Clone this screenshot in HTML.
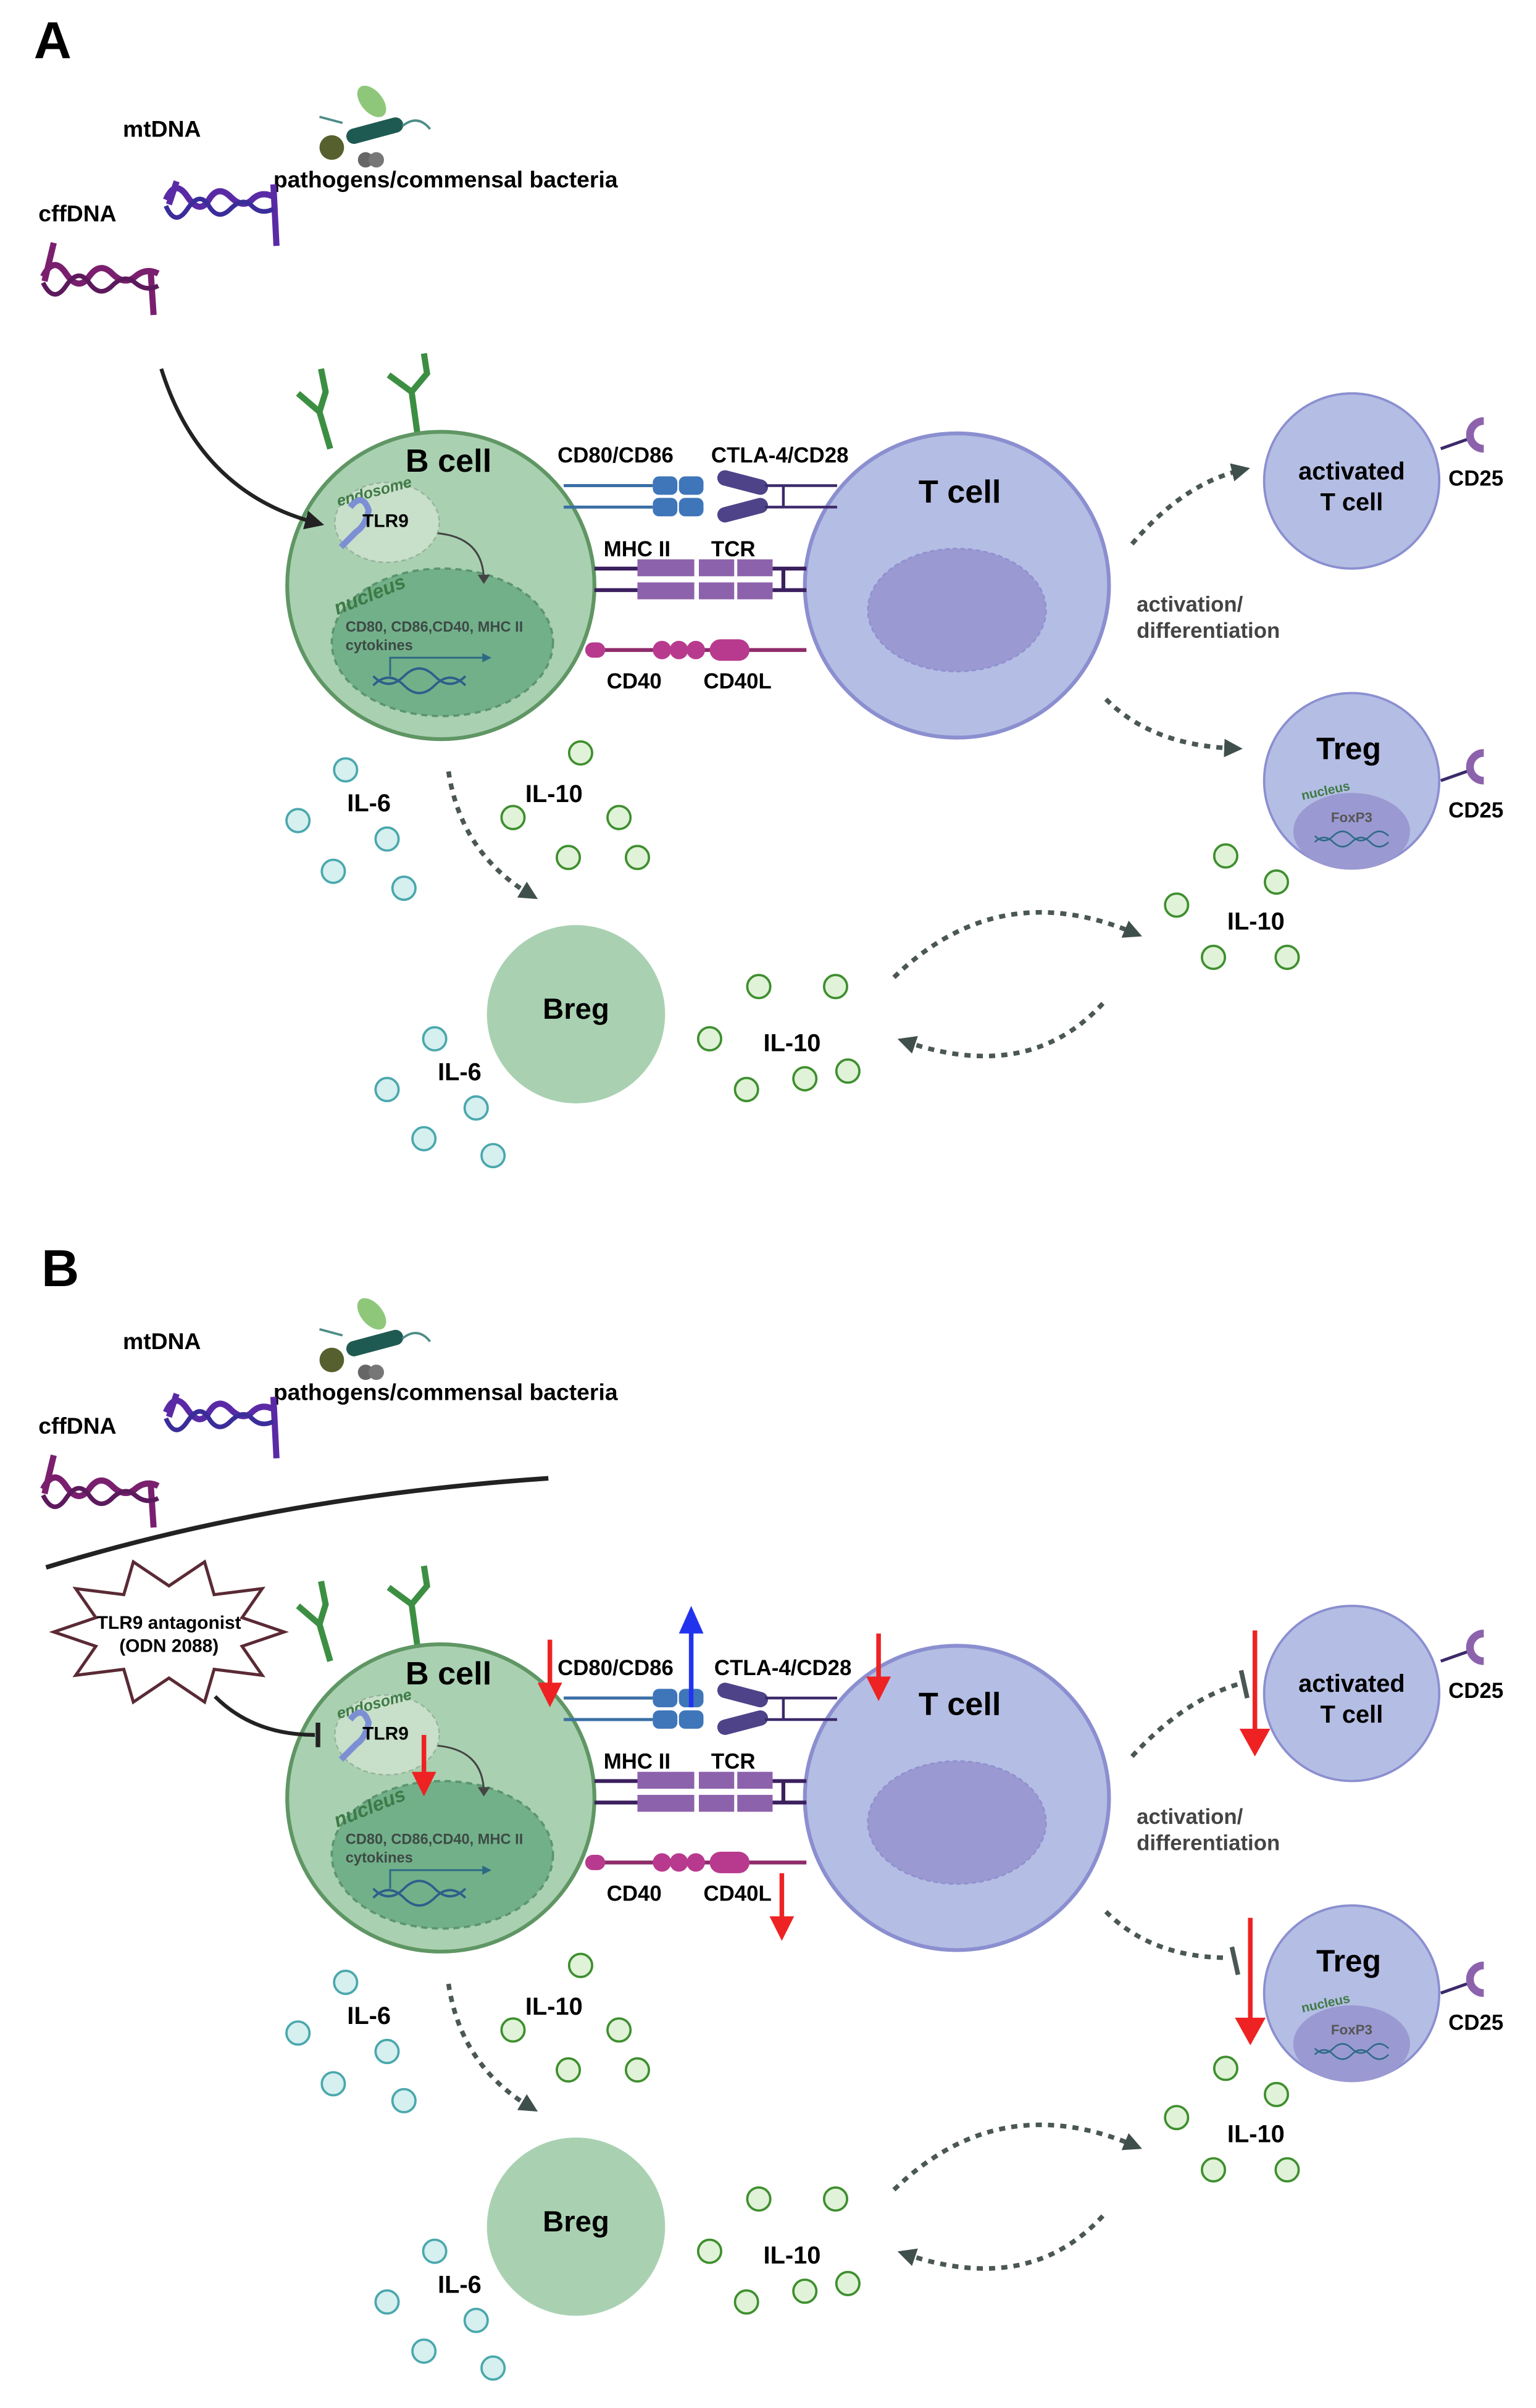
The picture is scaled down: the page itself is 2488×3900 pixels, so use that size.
<!DOCTYPE html>
<html><head><meta charset="utf-8"><style>
html,body{margin:0;padding:0;background:#fff;}
svg{display:block;}
text{font-family:"Liberation Sans",sans-serif;font-weight:bold;}
</style></head><body>
<svg width="2488" height="3900" viewBox="0 0 1000 1567" preserveAspectRatio="none" xmlns="http://www.w3.org/2000/svg">
<defs>
<marker id="ah" viewBox="0 0 10 10" refX="5" refY="5" markerWidth="4" markerHeight="4" orient="auto"><path d="M0,0L10,5L0,10z" fill="#3f4f4c"/></marker>
<marker id="bk" viewBox="0 0 10 10" refX="5" refY="5" markerWidth="5" markerHeight="5" orient="auto"><path d="M0,0L10,5L0,10z" fill="#222"/></marker>
</defs>
<rect width="1000" height="1567" fill="#fff"/>

<text x="22" y="38" font-size="34">A</text>
<text x="27" y="837" font-size="34">B</text>

<!-- PANEL A -->
<g>
<text x="80" y="89" font-size="15">mtDNA</text>
<text x="25" y="144" font-size="15">cffDNA</text>
<text x="178" y="122" font-size="15">pathogens/commensal bacteria</text>
<path d="M108,130 q6,-14 14,-2 t14,2 t14,-2 t14,2 t14,-2 M115,118 l-5,15 M178,120 l2,40" stroke="#5a2aa6" stroke-width="4" fill="none"/>
<path d="M108,134 q6,14 14,2 t14,-2 t14,2 t14,-2 t14,2" stroke="#3a2d9a" stroke-width="3" fill="none"/>
<path d="M28,180 q7,-14 15,-2 t15,2 t15,-2 t15,2 t15,-2 M35,158 l-6,25 M98,175 l2,30" stroke="#7a1f6e" stroke-width="4" fill="none"/>
<path d="M28,184 q7,14 15,2 t15,-2 t15,2 t15,-2 t15,2" stroke="#5c1a5c" stroke-width="3" fill="none"/>
<rect x="225" y="80" width="38" height="10" rx="5" fill="#1f5a52" transform="rotate(-15 244 85)"/>
<ellipse cx="242" cy="66" rx="7" ry="12" fill="#8fc77a" transform="rotate(-40 242 66)"/>
<circle cx="216" cy="96" r="8" fill="#55602e"/>
<circle cx="238" cy="104" r="5" fill="#666"/><circle cx="245" cy="104" r="5" fill="#777"/>
<path d="M208,76 l15,4 M262,82 q10,-8 18,2" stroke="#4d8c88" stroke-width="1.5" fill="none"/>

<g stroke="#3c8f42" stroke-width="4" fill="none">
<path d="M215,292 L208,268 L194,256 M208,268 L212,255 L209,240"/>
<path d="M272,284 L268,255 L253,244 M268,255 L278,243 L276,230"/>
</g>
<circle cx="287" cy="381" r="100" fill="#a9d1b1" stroke="#5f9664" stroke-width="2.5"/>
<path d="M105,240 Q130,320 205,340" stroke="#222" stroke-width="2.5" fill="none" marker-end="url(#bk)"/>
<text x="264" y="307" font-size="21">B cell</text>
<ellipse cx="252" cy="340" rx="34" ry="26" fill="#c8dfc9" stroke="#98b49c" stroke-dasharray="3,2"/>
<text x="218" y="324" font-size="10" fill="#3e7a46" font-style="italic" transform="rotate(-15 240 318)">endosome</text>
<path d="M228,330 q8,-10 12,2 q-2,10 -8,14 l-10,10" stroke="#7c8fd4" stroke-width="4" fill="none"/>
<text x="236" y="343" font-size="12">TLR9</text>
<ellipse cx="288" cy="418" rx="72" ry="48" fill="#72b08a" stroke="#5d9470" stroke-dasharray="4,3" stroke-width="1.5"/>
<text x="214" y="392" font-size="13" fill="#3e7a46" font-style="italic" transform="rotate(-22 238 382)">nucleus</text>
<path d="M285,347 Q315,350 315,378" stroke="#444" stroke-width="1.2" fill="none"/>
<path d="M311,374 l4,6 l4,-6z" fill="#444"/>
<text x="225" y="411" font-size="9.5" fill="#3d4a45">CD80, CD86,CD40, MHC II</text>
<text x="225" y="423" font-size="9.5" fill="#3d4a45">cytokines</text>
<path d="M254,440 v-12 h62" stroke="#2d6a85" stroke-width="1.2" fill="none"/>
<path d="M314,425 l6,3 l-6,3z" fill="#2d6a85"/>
<path d="M243,446 q10,-10 20,0 t20,0 t20,0 M243,440 q10,10 20,0 t20,0 t20,0" stroke="#2d5f8a" stroke-width="1.5" fill="none"/>

<circle cx="623" cy="381" r="99" fill="#b4bde3" stroke="#8b8fd0" stroke-width="2.5"/>
<ellipse cx="623" cy="397" rx="58" ry="40" fill="#9a99d2" stroke="#8f8ed0" stroke-dasharray="3,2"/>
<text x="598" y="327" font-size="21">T cell</text>

<text x="363" y="301" font-size="14">CD80/CD86</text>
<text x="463" y="301" font-size="14">CTLA-4/CD28</text>
<path d="M367,316 H425 M367,330 H425" stroke="#3b6fa5" stroke-width="2"/>
<g fill="#3f76ba"><rect x="425" y="310" width="16" height="12" rx="4"/><rect x="442" y="310" width="16" height="12" rx="4"/><rect x="425" y="324" width="16" height="12" rx="4"/><rect x="442" y="324" width="16" height="12" rx="4"/></g>
<path d="M472,311 L495,317 M472,335 L495,329" stroke="#4e4388" stroke-width="10" stroke-linecap="round"/>
<path d="M498,316 H545 M498,330 H545 M510,316 V330" stroke="#3c2a6a" stroke-width="1.8"/>
<text x="393" y="362" font-size="14">MHC II</text>
<text x="463" y="362" font-size="14">TCR</text>
<path d="M387,370 H415 M387,384 H415 M503,370 H525 M503,384 H525 M510,370 V384" stroke="#3b1f5e" stroke-width="2.5"/>
<g fill="#8d62ac"><rect x="415" y="364" width="37" height="11"/><rect x="415" y="379" width="37" height="11"/><rect x="455" y="364" width="23" height="11"/><rect x="480" y="364" width="23" height="11"/><rect x="455" y="379" width="23" height="11"/><rect x="480" y="379" width="23" height="11"/></g>
<path d="M383,423 H525" stroke="#8f2b6a" stroke-width="2.5"/>
<g fill="#b83a8e"><rect x="381" y="418" width="13" height="10" rx="5"/><circle cx="431" cy="423" r="6"/><circle cx="442" cy="423" r="6"/><circle cx="453" cy="423" r="6"/><rect x="462" y="416" width="26" height="14" rx="7"/></g>
<text x="395" y="448" font-size="14">CD40</text>
<text x="458" y="448" font-size="14">CD40L</text>

<path d="M938,292 L955,286" stroke="#3c2a6a" stroke-width="2"/>
<path d="M966,274 a9,9 0 0 0 0,18" stroke="#8d62ac" stroke-width="5" fill="none"/>
<circle cx="880" cy="313" r="57" fill="#b4bde3" stroke="#8b8fd0" stroke-width="1.5"/>
<text x="880" y="312" font-size="16" text-anchor="middle">activated</text>
<text x="880" y="332" font-size="16" text-anchor="middle">T cell</text>
<text x="943" y="316" font-size="14">CD25</text>
<text x="740" y="398" font-size="14" fill="#444">activation/</text>
<text x="740" y="415" font-size="14" fill="#444">differentiation</text>
<path d="M938,508 L955,502" stroke="#3c2a6a" stroke-width="2"/>
<path d="M966,490 a9,9 0 0 0 0,18" stroke="#8d62ac" stroke-width="5" fill="none"/>
<circle cx="880" cy="508" r="57" fill="#b4bde3" stroke="#8b8fd0" stroke-width="1.5"/>
<ellipse cx="880" cy="541" rx="38" ry="25" fill="#9a99d2"/>
<text x="878" y="494" font-size="20" text-anchor="middle">Treg</text>
<text x="847" y="518" font-size="8.5" fill="#3e7a46" transform="rotate(-12 860 515)">nucleus</text>
<text x="880" y="535" font-size="9" fill="#555" text-anchor="middle">FoxP3</text>
<path d="M856,548 q6,-6 12,0 t12,0 t12,0 t12,0 M856,544 q6,6 12,0 t12,0 t12,0 t12,0" stroke="#2d6a85" stroke-width="1" fill="none"/>
<text x="943" y="532" font-size="14">CD25</text>

<g fill="#d6efef" stroke="#4aa8ad" stroke-width="1.5">
<circle cx="225" cy="501" r="7.5"/><circle cx="194" cy="534" r="7.5"/><circle cx="252" cy="546" r="7.5"/><circle cx="217" cy="567" r="7.5"/><circle cx="263" cy="578" r="7.5"/>
<circle cx="283" cy="676" r="7.5"/><circle cx="252" cy="709" r="7.5"/><circle cx="310" cy="721" r="7.5"/><circle cx="276" cy="741" r="7.5"/><circle cx="321" cy="752" r="7.5"/>
</g>
<g fill="#e0f2d8" stroke="#3e8f2e" stroke-width="1.5">
<circle cx="378" cy="490" r="7.5"/><circle cx="334" cy="532" r="7.5"/><circle cx="403" cy="532" r="7.5"/><circle cx="370" cy="558" r="7.5"/><circle cx="415" cy="558" r="7.5"/>
<circle cx="494" cy="642" r="7.5"/><circle cx="544" cy="642" r="7.5"/><circle cx="462" cy="676" r="7.5"/><circle cx="486" cy="709" r="7.5"/><circle cx="524" cy="702" r="7.5"/><circle cx="552" cy="697" r="7.5"/>
<circle cx="798" cy="557" r="7.5"/><circle cx="831" cy="574" r="7.5"/><circle cx="766" cy="589" r="7.5"/><circle cx="790" cy="623" r="7.5"/><circle cx="838" cy="623" r="7.5"/>
</g>
<text x="226" y="528" font-size="16">IL-6</text>
<text x="342" y="522" font-size="16">IL-10</text>
<text x="285" y="703" font-size="16">IL-6</text>
<text x="497" y="684" font-size="16">IL-10</text>
<text x="799" y="605" font-size="16">IL-10</text>
<circle cx="375" cy="660" r="58" fill="#a9d1b1"/>
<text x="375" y="663" font-size="19" text-anchor="middle">Breg</text>
<g stroke="#4a5754" stroke-width="3" stroke-dasharray="4,4" fill="none">
<path d="M292,502 Q300,555 345,582" marker-end="url(#ah)"/>
<path d="M582,636 Q650,570 738,607" marker-end="url(#ah)"/>
<path d="M718,653 Q670,705 590,678" marker-end="url(#ah)"/>
<path d="M737,354 Q770,315 808,306" marker-end="url(#ah)"/>
<path d="M720,455 Q750,485 803,487" marker-end="url(#ah)"/>
</g>
</g>

<!-- PANEL B -->
<g transform="translate(0,789)">
<text x="80" y="89" font-size="15">mtDNA</text>
<text x="25" y="144" font-size="15">cffDNA</text>
<text x="178" y="122" font-size="15">pathogens/commensal bacteria</text>
<path d="M108,130 q6,-14 14,-2 t14,2 t14,-2 t14,2 t14,-2 M115,118 l-5,15 M178,120 l2,40" stroke="#5a2aa6" stroke-width="4" fill="none"/>
<path d="M108,134 q6,14 14,2 t14,-2 t14,2 t14,-2 t14,2" stroke="#3a2d9a" stroke-width="3" fill="none"/>
<path d="M28,180 q7,-14 15,-2 t15,2 t15,-2 t15,2 t15,-2 M35,158 l-6,25 M98,175 l2,30" stroke="#7a1f6e" stroke-width="4" fill="none"/>
<path d="M28,184 q7,14 15,2 t15,-2 t15,2 t15,-2 t15,2" stroke="#5c1a5c" stroke-width="3" fill="none"/>
<rect x="225" y="80" width="38" height="10" rx="5" fill="#1f5a52" transform="rotate(-15 244 85)"/>
<ellipse cx="242" cy="66" rx="7" ry="12" fill="#8fc77a" transform="rotate(-40 242 66)"/>
<circle cx="216" cy="96" r="8" fill="#55602e"/>
<circle cx="238" cy="104" r="5" fill="#666"/><circle cx="245" cy="104" r="5" fill="#777"/>
<path d="M208,76 l15,4 M262,82 q10,-8 18,2" stroke="#4d8c88" stroke-width="1.5" fill="none"/>
<path d="M30,231 Q180,185 357,173" stroke="#222" stroke-width="3" fill="none"/>
<polygon points="185,273 157.6,282.3 170.7,301.2 139.4,297.3 133.2,318.6 110,303 86.8,318.6 80.6,297.3 49.3,301.2 62.4,282.3 35,273 62.4,263.7 49.3,244.8 80.6,248.7 86.8,227.4 110,243 133.2,227.4 139.4,248.7 170.7,244.8 157.6,263.7" fill="#fff" stroke="#5a2a35" stroke-width="2"/>
<text x="110" y="271" font-size="12" text-anchor="middle">TLR9 antagonist</text>
<text x="110" y="286" font-size="12" text-anchor="middle">(ODN 2088)</text>

<g stroke="#3c8f42" stroke-width="4" fill="none">
<path d="M215,292 L208,268 L194,256 M208,268 L212,255 L209,240"/>
<path d="M272,284 L268,255 L253,244 M268,255 L278,243 L276,230"/>
</g>
<circle cx="287" cy="381" r="100" fill="#a9d1b1" stroke="#5f9664" stroke-width="2.5"/>
<path d="M140,315 Q165,340 205,340" stroke="#222" stroke-width="2.5" fill="none"/>
<path d="M207,332 V348" stroke="#222" stroke-width="3"/>
<text x="264" y="307" font-size="21">B cell</text>
<ellipse cx="252" cy="340" rx="34" ry="26" fill="#c8dfc9" stroke="#98b49c" stroke-dasharray="3,2"/>
<text x="218" y="324" font-size="10" fill="#3e7a46" font-style="italic" transform="rotate(-15 240 318)">endosome</text>
<path d="M228,330 q8,-10 12,2 q-2,10 -8,14 l-10,10" stroke="#7c8fd4" stroke-width="4" fill="none"/>
<text x="236" y="343" font-size="12">TLR9</text>
<ellipse cx="288" cy="418" rx="72" ry="48" fill="#72b08a" stroke="#5d9470" stroke-dasharray="4,3" stroke-width="1.5"/>
<text x="214" y="392" font-size="13" fill="#3e7a46" font-style="italic" transform="rotate(-22 238 382)">nucleus</text>
<path d="M285,347 Q315,350 315,378" stroke="#444" stroke-width="1.2" fill="none"/>
<path d="M311,374 l4,6 l4,-6z" fill="#444"/>
<text x="225" y="411" font-size="9.5" fill="#3d4a45">CD80, CD86,CD40, MHC II</text>
<text x="225" y="423" font-size="9.5" fill="#3d4a45">cytokines</text>
<path d="M254,440 v-12 h62" stroke="#2d6a85" stroke-width="1.2" fill="none"/>
<path d="M314,425 l6,3 l-6,3z" fill="#2d6a85"/>
<path d="M243,446 q10,-10 20,0 t20,0 t20,0 M243,440 q10,10 20,0 t20,0 t20,0" stroke="#2d5f8a" stroke-width="1.5" fill="none"/>

<circle cx="623" cy="381" r="99" fill="#b4bde3" stroke="#8b8fd0" stroke-width="2.5"/>
<ellipse cx="623" cy="397" rx="58" ry="40" fill="#9a99d2" stroke="#8f8ed0" stroke-dasharray="3,2"/>
<text x="598" y="327" font-size="21">T cell</text>

<text x="363" y="301" font-size="14">CD80/CD86</text>
<text x="465" y="301" font-size="14">CTLA-4/CD28</text>
<path d="M367,316 H425 M367,330 H425" stroke="#3b6fa5" stroke-width="2"/>
<g fill="#3f76ba"><rect x="425" y="310" width="16" height="12" rx="4"/><rect x="442" y="310" width="16" height="12" rx="4"/><rect x="425" y="324" width="16" height="12" rx="4"/><rect x="442" y="324" width="16" height="12" rx="4"/></g>
<path d="M472,311 L495,317 M472,335 L495,329" stroke="#4e4388" stroke-width="10" stroke-linecap="round"/>
<path d="M498,316 H545 M498,330 H545 M510,316 V330" stroke="#3c2a6a" stroke-width="1.8"/>
<text x="393" y="362" font-size="14">MHC II</text>
<text x="463" y="362" font-size="14">TCR</text>
<path d="M387,370 H415 M387,384 H415 M503,370 H525 M503,384 H525 M510,370 V384" stroke="#3b1f5e" stroke-width="2.5"/>
<g fill="#8d62ac"><rect x="415" y="364" width="37" height="11"/><rect x="415" y="379" width="37" height="11"/><rect x="455" y="364" width="23" height="11"/><rect x="480" y="364" width="23" height="11"/><rect x="455" y="379" width="23" height="11"/><rect x="480" y="379" width="23" height="11"/></g>
<path d="M383,423 H525" stroke="#8f2b6a" stroke-width="2.5"/>
<g fill="#b83a8e"><rect x="381" y="418" width="13" height="10" rx="5"/><circle cx="431" cy="423" r="6"/><circle cx="442" cy="423" r="6"/><circle cx="453" cy="423" r="6"/><rect x="462" y="416" width="26" height="14" rx="7"/></g>
<text x="395" y="448" font-size="14">CD40</text>
<text x="458" y="448" font-size="14">CD40L</text>

<path d="M938,292 L955,286" stroke="#3c2a6a" stroke-width="2"/>
<path d="M966,274 a9,9 0 0 0 0,18" stroke="#8d62ac" stroke-width="5" fill="none"/>
<circle cx="880" cy="313" r="57" fill="#b4bde3" stroke="#8b8fd0" stroke-width="1.5"/>
<text x="880" y="312" font-size="16" text-anchor="middle">activated</text>
<text x="880" y="332" font-size="16" text-anchor="middle">T cell</text>
<text x="943" y="316" font-size="14">CD25</text>
<text x="740" y="398" font-size="14" fill="#444">activation/</text>
<text x="740" y="415" font-size="14" fill="#444">differentiation</text>
<path d="M938,508 L955,502" stroke="#3c2a6a" stroke-width="2"/>
<path d="M966,490 a9,9 0 0 0 0,18" stroke="#8d62ac" stroke-width="5" fill="none"/>
<circle cx="880" cy="508" r="57" fill="#b4bde3" stroke="#8b8fd0" stroke-width="1.5"/>
<ellipse cx="880" cy="541" rx="38" ry="25" fill="#9a99d2"/>
<text x="878" y="494" font-size="20" text-anchor="middle">Treg</text>
<text x="847" y="518" font-size="8.5" fill="#3e7a46" transform="rotate(-12 860 515)">nucleus</text>
<text x="880" y="535" font-size="9" fill="#555" text-anchor="middle">FoxP3</text>
<path d="M856,548 q6,-6 12,0 t12,0 t12,0 t12,0 M856,544 q6,6 12,0 t12,0 t12,0 t12,0" stroke="#2d6a85" stroke-width="1" fill="none"/>
<text x="943" y="532" font-size="14">CD25</text>

<g fill="#d6efef" stroke="#4aa8ad" stroke-width="1.5">
<circle cx="225" cy="501" r="7.5"/><circle cx="194" cy="534" r="7.5"/><circle cx="252" cy="546" r="7.5"/><circle cx="217" cy="567" r="7.5"/><circle cx="263" cy="578" r="7.5"/>
<circle cx="283" cy="676" r="7.5"/><circle cx="252" cy="709" r="7.5"/><circle cx="310" cy="721" r="7.5"/><circle cx="276" cy="741" r="7.5"/><circle cx="321" cy="752" r="7.5"/>
</g>
<g fill="#e0f2d8" stroke="#3e8f2e" stroke-width="1.5">
<circle cx="378" cy="490" r="7.5"/><circle cx="334" cy="532" r="7.5"/><circle cx="403" cy="532" r="7.5"/><circle cx="370" cy="558" r="7.5"/><circle cx="415" cy="558" r="7.5"/>
<circle cx="494" cy="642" r="7.5"/><circle cx="544" cy="642" r="7.5"/><circle cx="462" cy="676" r="7.5"/><circle cx="486" cy="709" r="7.5"/><circle cx="524" cy="702" r="7.5"/><circle cx="552" cy="697" r="7.5"/>
<circle cx="798" cy="557" r="7.5"/><circle cx="831" cy="574" r="7.5"/><circle cx="766" cy="589" r="7.5"/><circle cx="790" cy="623" r="7.5"/><circle cx="838" cy="623" r="7.5"/>
</g>
<text x="226" y="528" font-size="16">IL-6</text>
<text x="342" y="522" font-size="16">IL-10</text>
<text x="285" y="703" font-size="16">IL-6</text>
<text x="497" y="684" font-size="16">IL-10</text>
<text x="799" y="605" font-size="16">IL-10</text>
<circle cx="375" cy="660" r="58" fill="#a9d1b1"/>
<text x="375" y="663" font-size="19" text-anchor="middle">Breg</text>
<g stroke="#4a5754" stroke-width="3" stroke-dasharray="4,4" fill="none">
<path d="M292,502 Q300,555 345,582" marker-end="url(#ah)"/>
<path d="M582,636 Q650,570 738,607" marker-end="url(#ah)"/>
<path d="M718,653 Q670,705 590,678" marker-end="url(#ah)"/>
<path d="M737,354 Q770,318 806,307"/>
<path d="M720,455 Q750,485 800,485"/>
</g>
<path d="M808,298 L812,316 M802,478 L806,496" stroke="#4a5754" stroke-width="3"/>
<g stroke="#ee2222" stroke-width="3">
<path d="M358,278 V310 M276,340 V368 M572,274 V306 M509,430 V462 M817,272 V340 M814,459 V528"/>
</g>
<g fill="#ee2222">
<path d="M350,306 h16 l-8,16z M268,364 h16 l-8,16z M564,302 h16 l-8,16z M501,458 h16 l-8,16z M807,336 h20 l-10,18z M804,524 h20 l-10,18z"/>
</g>
<path d="M450,322 V270" stroke="#2233ee" stroke-width="3"/>
<path d="M442,274 h16 l-8,-18z" fill="#2233ee"/>
</g>
</svg>
</body></html>
